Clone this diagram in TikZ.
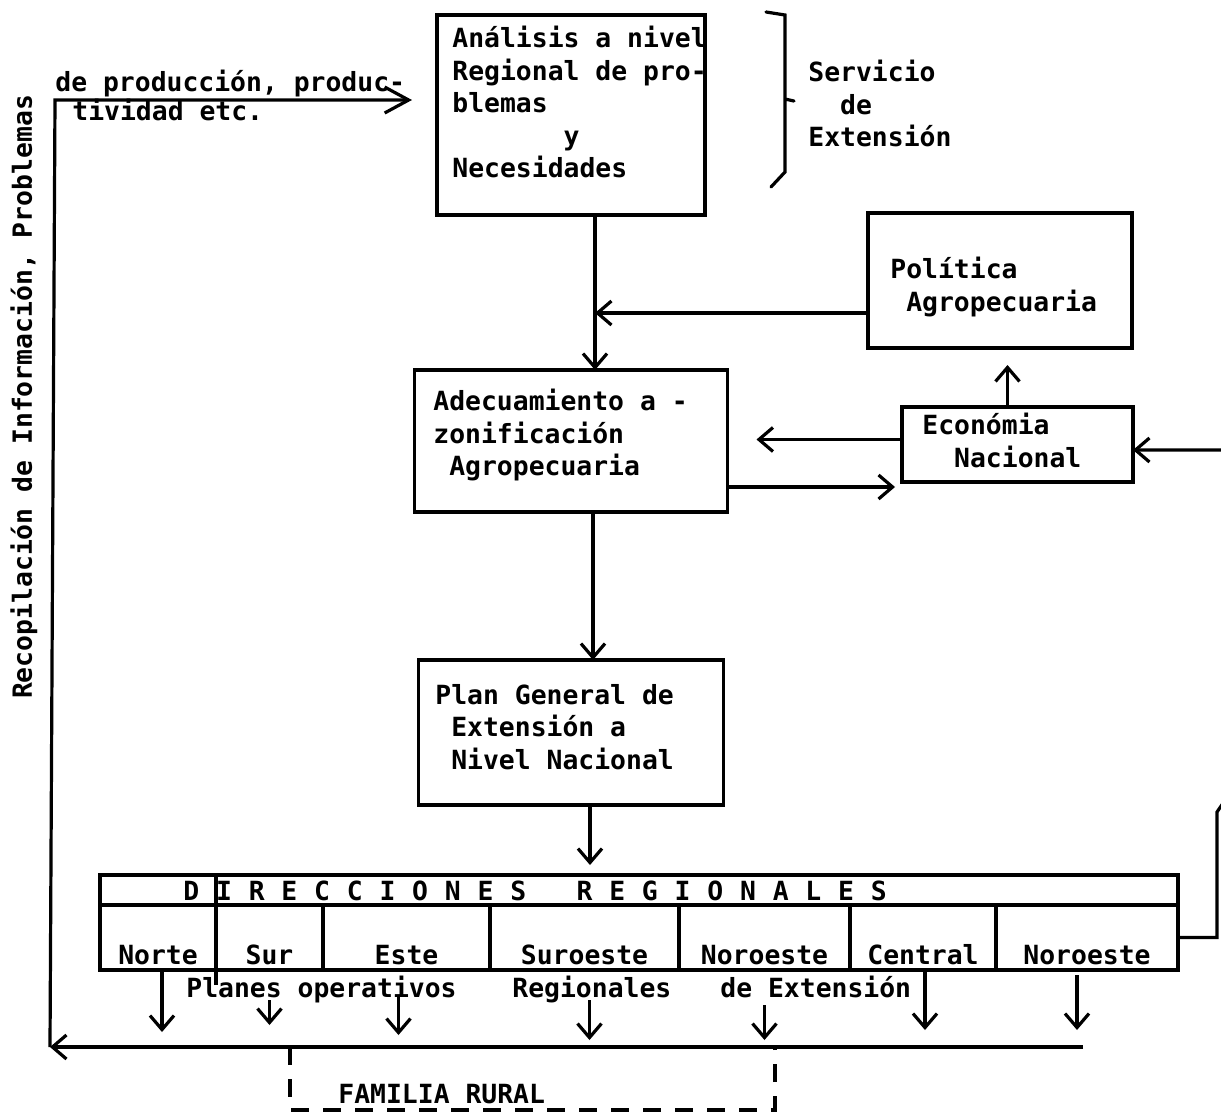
\documentclass[tikz,border=0pt]{standalone}
\usepackage{fontspec}
\setmainfont{DejaVu Sans Mono}
\usetikzlibrary{arrows.meta, positioning}

\begin{document}
\begin{tikzpicture}[x=0.5pt, y=-0.5pt, node distance=100pt, font=\fontsize{13.2pt}{16.2pt}\selectfont\bfseries]
    % Estilos
    \tikzstyle{caja} = [rectangle, draw=black, line width=1.6pt, inner sep=0pt, outer sep=0pt]
    \tikzstyle{texto} = [anchor=north west, inner sep=0pt, align=left]
    \tikzstyle{celda} = [caja, text height=29.5pt, text depth=3pt]
    \tikzstyle{linea} = [line width=1.6pt]
    \tikzstyle{flecha} = [linea, -{Straight Barb[length=7pt, width=12pt]}]

    \clip (0,0) rectangle (1221,1114);

    % Cajas
    \node (ana) [caja, minimum width=134pt, minimum height=100pt] at (571,115) {};
    \node (ade) [caja, minimum width=156.5pt, minimum height=71pt, below of=ana, yshift=-63pt] {};
    \node (plan) [caja, minimum width=152.5pt, minimum height=72.5pt, below of=ade, yshift=-45.75pt] {};
    \node (pol) [caja, minimum width=132pt, minimum height=67.5pt] at (1000,280.5) {};
    \node (eco) [caja, minimum width=115.5pt, minimum height=37.5pt] at (1017.5,444.5) {};

    % Textos
    \node (anaT) [texto] at (452,26) {Análisis a nivel\\Regional de pro-\\blemas\\~~~~~~~y\\Necesidades};
    \node (serv) [texto] at (808,60) {Servicio\\~~de\\Extensión};
    \node (polT) [texto] at (890,257) {Política\\~Agropecuaria};
    \node (adeT) [texto] at (433,389) {Adecuamiento a -\\zonificación\\~Agropecuaria};
    \node (ecoT) [texto] at (922,413) {Económia\\~~Nacional};
    \node (planT) [texto] at (435,684) {Plan General de\\~Extensión a\\~Nivel Nacional};
    \node (prodA) [texto] at (55,70) {de producción, produc-};
    \node (prodB) [texto] at (72,99) {tividad etc.};
    \node (recT) [rotate=90] at (24,397) {Recopilación de Información, Problemas};

    % Direcciones regionales
    \node (dir) [caja, minimum width=539pt, minimum height=15pt] at (639,890) {};
    \node (dirT) [texto] at (183,880) {\spaceskip=8.4pt\relax D I R E C C I O N E S\ \ \ R E G I O N A L E S};
    \node (norte) [celda, minimum width=58pt, anchor=north west] at (dir.south west) {Norte};
    \node (sur) [celda, minimum width=53.5pt, right=0pt of norte] {Sur};
    \node (este) [celda, minimum width=83.5pt, right=0pt of sur] {Este};
    \node (suro) [celda, minimum width=94.5pt, right=0pt of este] {Suroeste};
    \node (noro) [celda, minimum width=85.5pt, right=0pt of suro] {Noroeste};
    \node (cen) [celda, minimum width=73pt, right=0pt of noro] {Central};
    \node (noro2) [celda, minimum width=91pt, right=0pt of cen] {Noroeste};
    \draw [linea] ([yshift=-7.5pt]norte.south east) -- (norte.north east |- dir.north);

    \node (plA) [texto] at (186,976) {Planes operativos};
    \node (plB) [texto] at (512,976) {Regionales};
    \node (plC) [texto] at (720,976) {de Extensión};

    \node (fam) [texto] at (338,1084) {FAMILIA RURAL};

    % Llave
    \draw [linea, line cap=round] (766,12) -- (785,15) -- (785,99) -- (794,101) (785,99) -- (785,172) -- (771,187);

    % Flechas
    \coordinate (cruce) at (595,313);
    \coordinate (bder) at (1083,1047);
    \coordinate (esq) at (50,1047);
    \coordinate (sup) at (55,100);
    \coordinate (fi) at (290,1047);
    \coordinate (fd) at (775,1047);

    \draw [flecha] ([xshift=12pt]ana.south) -- ([xshift=12pt]ade.north);
    \draw [flecha] (pol.west |- cruce) -- (cruce);
    \draw [flecha] ([xshift=11pt]ade.south) -- ([xshift=11pt]plan.north);
    \draw [flecha, shorten >=5pt] ([xshift=9.5pt]plan.south) -- ([xshift=9.5pt]plan.south |- dir.north);
    \draw [flecha, shorten >=8.5pt] ([xshift=-5pt]eco.north) -- ([xshift=-5pt]eco.north |- pol.south);
    \draw [flecha, shorten >=14.5pt] ([yshift=2.5pt]eco.west) -- ([yshift=2.5pt]eco.west -| ade.east);
    \draw [flecha, shorten >=3.5pt] ([yshift=-23pt]ade.east) -- ([yshift=-23pt]ade.east -| eco.west);
    \draw [flecha] (noro2.east) -- ++(39,0) -- (1217,812) -- (1232,790) |- ([yshift=-2.75pt]eco.east);

    \foreach \c/\dx/\ini/\fin in {norte/2pt/0pt/7.5pt, sur/0pt/15pt/11pt, este/-4pt/12.5pt/6pt, suro/2.5pt/15pt/3.5pt, noro/0pt/17.5pt/3.5pt, cen/1pt/0pt/8.5pt, noro2/-5pt/2.5pt/8.5pt}
        \draw [flecha, shorten <=\ini, shorten >=\fin] ([xshift=\dx]\c.south) -- ++(0,77);

    \draw [flecha] (bder) -- (esq);
    \draw [linea, -{Straight Barb[length=12pt, width=13pt]}, shorten >=12.5pt] (esq) -- (sup) -- (sup -| ana.west);
    \draw [linea, dash pattern=on 9pt off 7pt] (fi) -- ++(0,63) -| (fd);
\end{tikzpicture}
\end{document}
